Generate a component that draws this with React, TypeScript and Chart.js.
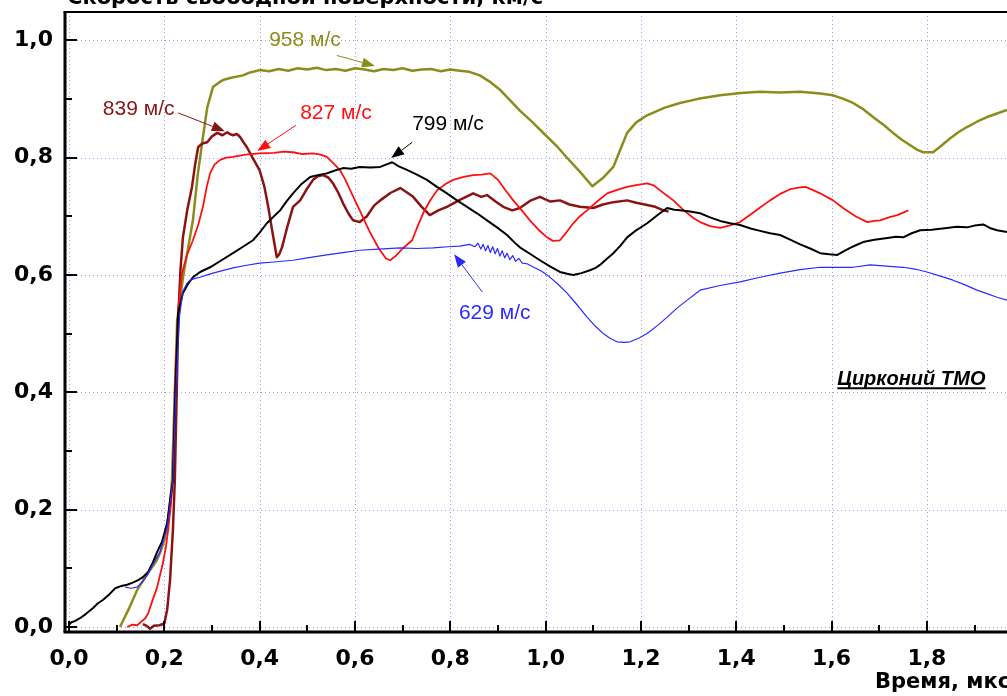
import React, { useEffect, useRef } from "react";
import Chart from "chart.js/auto";

type P = [number, number];

const X_TICKS = [0, 0.2, 0.4, 0.6, 0.8, 1.0, 1.2, 1.4, 1.6, 1.8];
const X_MINOR = [0.1, 0.3, 0.5, 0.7, 0.9, 1.1, 1.3, 1.5, 1.7, 1.9];
const Y_TICKS = [0, 0.2, 0.4, 0.6, 0.8, 1.0];
const Y_MINOR = [0.1, 0.3, 0.5, 0.7, 0.9];

const TITLE_Y = "Скорость свободной поверхности, км/с";
const TITLE_X = "Время, мкс";
const NOTE = "Цирконий ТМО";

const S958: P[] = [[0.107,0],[0.125,0.03],[0.143,0.063],[0.16,0.085],[0.17,0.097],[0.183,0.112],[0.191,0.126],[0.2,0.148],[0.205,0.165],[0.212,0.21],[0.216,0.25],[0.222,0.4],[0.227,0.523],[0.24,0.6],[0.26,0.693],[0.27,0.77],[0.281,0.835],[0.29,0.885],[0.302,0.92],[0.315,0.928],[0.323,0.932],[0.34,0.936],[0.365,0.94],[0.38,0.945],[0.40,0.949],[0.42,0.947],[0.44,0.951],[0.46,0.948],[0.48,0.952],[0.5,0.95],[0.52,0.953],[0.54,0.949],[0.56,0.951],[0.58,0.948],[0.6,0.952],[0.62,0.95],[0.64,0.947],[0.66,0.951],[0.68,0.949],[0.7,0.952],[0.72,0.948],[0.74,0.95],[0.76,0.951],[0.78,0.947],[0.8,0.95],[0.82,0.948],[0.84,0.946],[0.862,0.94],[0.885,0.928],[0.905,0.915],[0.925,0.898],[0.946,0.88],[0.97,0.862],[1.0,0.838],[1.025,0.818],[1.05,0.795],[1.075,0.773],[1.098,0.751],[1.12,0.765],[1.142,0.784],[1.16,0.82],[1.171,0.842],[1.19,0.86],[1.213,0.872],[1.25,0.885],[1.282,0.893],[1.32,0.9],[1.366,0.906],[1.41,0.91],[1.45,0.912],[1.49,0.911],[1.534,0.912],[1.576,0.909],[1.603,0.906],[1.625,0.9],[1.645,0.893],[1.667,0.882],[1.687,0.869],[1.71,0.855],[1.729,0.842],[1.748,0.83],[1.765,0.821],[1.78,0.813],[1.792,0.809],[1.813,0.809],[1.83,0.82],[1.849,0.833],[1.866,0.843],[1.884,0.852],[1.905,0.861],[1.926,0.869],[1.947,0.875],[1.968,0.881]];

const S839: P[] = [[0.155,0.005],[0.163,0.002],[0.17,-0.003],[0.178,0.002],[0.19,0.003],[0.2,0.006],[0.206,0.03],[0.212,0.08],[0.218,0.165],[0.222,0.25],[0.226,0.4],[0.229,0.523],[0.234,0.61],[0.239,0.664],[0.248,0.71],[0.258,0.75],[0.265,0.79],[0.271,0.818],[0.28,0.824],[0.29,0.826],[0.3,0.836],[0.311,0.842],[0.322,0.838],[0.332,0.843],[0.338,0.84],[0.344,0.838],[0.352,0.84],[0.359,0.835],[0.366,0.826],[0.373,0.818],[0.385,0.8],[0.4,0.778],[0.41,0.75],[0.418,0.716],[0.427,0.672],[0.436,0.63],[0.441,0.635],[0.447,0.647],[0.458,0.682],[0.47,0.716],[0.485,0.727],[0.498,0.745],[0.512,0.762],[0.522,0.768],[0.533,0.77],[0.544,0.766],[0.554,0.756],[0.565,0.74],[0.575,0.722],[0.586,0.705],[0.596,0.693],[0.61,0.69],[0.625,0.7],[0.64,0.718],[0.653,0.727],[0.675,0.74],[0.695,0.748],[0.71,0.74],[0.722,0.733],[0.74,0.716],[0.757,0.702],[0.775,0.71],[0.793,0.716],[0.82,0.728],[0.848,0.739],[0.865,0.733],[0.877,0.736],[0.895,0.725],[0.911,0.716],[0.93,0.71],[0.946,0.714],[0.967,0.726],[0.988,0.733],[1.01,0.725],[1.03,0.727],[1.05,0.72],[1.072,0.716],[1.1,0.714],[1.12,0.72],[1.142,0.724],[1.171,0.727],[1.19,0.723],[1.213,0.719],[1.23,0.716],[1.247,0.71],[1.258,0.708]];

const S827: P[] = [[0.122,0],[0.133,0.004],[0.143,0.003],[0.153,0.01],[0.16,0.015],[0.166,0.023],[0.175,0.045],[0.185,0.068],[0.197,0.109],[0.203,0.135],[0.208,0.165],[0.214,0.21],[0.218,0.25],[0.222,0.4],[0.229,0.54],[0.237,0.603],[0.248,0.635],[0.26,0.659],[0.271,0.685],[0.281,0.716],[0.289,0.75],[0.296,0.773],[0.305,0.788],[0.317,0.796],[0.33,0.8],[0.344,0.801],[0.37,0.805],[0.4,0.807],[0.43,0.808],[0.45,0.81],[0.47,0.809],[0.49,0.806],[0.512,0.807],[0.528,0.805],[0.541,0.801],[0.555,0.79],[0.569,0.778],[0.58,0.762],[0.59,0.744],[0.61,0.71],[0.63,0.675],[0.65,0.645],[0.665,0.628],[0.674,0.625],[0.685,0.632],[0.7,0.645],[0.72,0.659],[0.73,0.68],[0.743,0.705],[0.757,0.726],[0.772,0.744],[0.79,0.755],[0.806,0.762],[0.828,0.767],[0.848,0.77],[0.866,0.771],[0.884,0.773],[0.9,0.762],[0.915,0.745],[0.932,0.727],[0.95,0.71],[0.967,0.693],[0.985,0.677],[1.003,0.664],[1.015,0.658],[1.03,0.659],[1.044,0.673],[1.058,0.688],[1.072,0.7],[1.087,0.71],[1.108,0.725],[1.129,0.739],[1.15,0.745],[1.171,0.75],[1.19,0.753],[1.213,0.756],[1.228,0.752],[1.24,0.744],[1.255,0.735],[1.268,0.727],[1.29,0.71],[1.31,0.697],[1.324,0.69],[1.345,0.683],[1.366,0.68],[1.385,0.684],[1.408,0.69],[1.43,0.703],[1.45,0.715],[1.471,0.727],[1.492,0.738],[1.513,0.746],[1.534,0.749],[1.545,0.75],[1.56,0.745],[1.576,0.739],[1.603,0.727],[1.624,0.714],[1.65,0.7],[1.675,0.69],[1.69,0.692],[1.702,0.693],[1.72,0.698],[1.738,0.702],[1.761,0.71]];

const S799: P[] = [[0.0,0.004],[0.005,0.008],[0.012,0.01],[0.023,0.015],[0.035,0.022],[0.05,0.032],[0.06,0.04],[0.071,0.046],[0.085,0.056],[0.097,0.066],[0.11,0.07],[0.122,0.072],[0.135,0.076],[0.145,0.08],[0.155,0.085],[0.166,0.094],[0.176,0.11],[0.185,0.128],[0.195,0.145],[0.206,0.177],[0.212,0.216],[0.218,0.25],[0.223,0.4],[0.229,0.535],[0.239,0.569],[0.25,0.585],[0.26,0.596],[0.275,0.605],[0.296,0.613],[0.32,0.625],[0.344,0.637],[0.365,0.648],[0.386,0.659],[0.4,0.672],[0.415,0.688],[0.43,0.7],[0.443,0.71],[0.456,0.725],[0.47,0.739],[0.488,0.755],[0.506,0.767],[0.522,0.77],[0.541,0.773],[0.558,0.778],[0.575,0.782],[0.592,0.781],[0.61,0.784],[0.632,0.783],[0.653,0.784],[0.665,0.788],[0.678,0.792],[0.692,0.785],[0.709,0.779],[0.73,0.771],[0.751,0.762],[0.772,0.75],[0.793,0.739],[0.814,0.727],[0.835,0.716],[0.856,0.705],[0.877,0.693],[0.898,0.681],[0.919,0.668],[0.935,0.655],[0.946,0.647],[0.967,0.636],[0.988,0.625],[1.01,0.614],[1.03,0.605],[1.045,0.602],[1.058,0.6],[1.075,0.603],[1.093,0.608],[1.105,0.612],[1.114,0.617],[1.128,0.627],[1.142,0.637],[1.157,0.65],[1.171,0.664],[1.19,0.676],[1.213,0.688],[1.235,0.702],[1.255,0.714],[1.27,0.711],[1.282,0.71],[1.303,0.708],[1.324,0.705],[1.345,0.698],[1.366,0.692],[1.387,0.688],[1.408,0.685],[1.43,0.679],[1.45,0.675],[1.471,0.671],[1.492,0.668],[1.513,0.66],[1.534,0.652],[1.555,0.645],[1.576,0.637],[1.595,0.635],[1.612,0.634],[1.625,0.64],[1.639,0.646],[1.652,0.651],[1.666,0.656],[1.69,0.66],[1.717,0.663],[1.735,0.665],[1.75,0.664],[1.768,0.671],[1.786,0.676],[1.81,0.677],[1.842,0.68],[1.862,0.682],[1.884,0.681],[1.9,0.684],[1.918,0.686],[1.932,0.68],[1.947,0.676],[1.968,0.673]];

const S629: P[] = [[0.118,0.068],[0.13,0.066],[0.143,0.068],[0.155,0.078],[0.164,0.088],[0.175,0.105],[0.191,0.128],[0.206,0.17],[0.218,0.25],[0.225,0.42],[0.232,0.53],[0.239,0.572],[0.247,0.585],[0.254,0.591],[0.265,0.594],[0.275,0.596],[0.29,0.6],[0.302,0.603],[0.32,0.607],[0.344,0.612],[0.37,0.616],[0.4,0.62],[0.43,0.622],[0.47,0.625],[0.5,0.629],[0.541,0.634],[0.575,0.638],[0.61,0.642],[0.65,0.644],[0.695,0.646],[0.73,0.645],[0.764,0.646],[0.795,0.648],[0.82,0.649],[0.84,0.652],[0.852,0.648],[0.858,0.654],[0.864,0.644],[0.869,0.652],[0.874,0.641],[0.879,0.65],[0.884,0.638],[0.889,0.648],[0.894,0.636],[0.899,0.645],[0.904,0.632],[0.909,0.641],[0.914,0.629],[0.919,0.637],[0.925,0.626],[0.931,0.633],[0.937,0.623],[0.944,0.628],[0.951,0.62],[0.961,0.619],[0.975,0.613],[0.99,0.607],[1.003,0.6],[1.025,0.585],[1.045,0.569],[1.065,0.55],[1.087,0.528],[1.105,0.512],[1.121,0.5],[1.135,0.492],[1.15,0.486],[1.165,0.485],[1.177,0.486],[1.195,0.492],[1.213,0.5],[1.235,0.514],[1.255,0.528],[1.275,0.543],[1.297,0.557],[1.324,0.574],[1.366,0.582],[1.408,0.588],[1.45,0.596],[1.492,0.603],[1.534,0.609],[1.576,0.613],[1.61,0.613],[1.645,0.613],[1.681,0.617],[1.715,0.615],[1.75,0.613],[1.775,0.61],[1.8,0.605],[1.828,0.598],[1.855,0.591],[1.88,0.583],[1.905,0.574],[1.926,0.568],[1.947,0.562],[1.968,0.557]];

const SERIES = [
  { label: "629 м/с", data: S629, color: "#2a2aff", width: 1.2 },
  { label: "799 м/с", data: S799, color: "#000000", width: 2 },
  { label: "827 м/с", data: S827, color: "#ff1010", width: 1.8 },
  { label: "839 м/с", data: S839, color: "#8a1414", width: 2.5 },
  { label: "958 м/с", data: S958, color: "#8c8c1c", width: 2.5 },
];

const NOTES = [
  { text: "958 м/с", color: "#8c8c1c", at: [0.42, 0.99], from: [0.562, 0.974], to: [0.642, 0.956] },
  { text: "839 м/с", color: "#8a1414", at: [0.071, 0.872], from: [0.229, 0.876], to: [0.327, 0.845] },
  { text: "827 м/с", color: "#ff1010", at: [0.485, 0.865], from: [0.476, 0.855], to: [0.395, 0.811] },
  { text: "799 м/с", color: "#000000", at: [0.72, 0.847], from: [0.72, 0.826], to: [0.676, 0.799] },
  { text: "629 м/с", color: "#2a2aff", at: [0.818, 0.525], from: [0.867, 0.571], to: [0.808, 0.635] },
];
const NOTE_POS = [1.612, 0.412];

const fmt = (v: number) => Number(v).toFixed(1).replace(".", ",");

const overlay = {
  id: "overlay",
  beforeDatasetsDraw(chart: any) {
    const { ctx, chartArea, scales } = chart;
    const { left, right, top, bottom } = chartArea;
    const x = scales.x, y = scales.y;
    ctx.save();
    ctx.strokeStyle = "#9a9aff";
    ctx.lineWidth = 1;
    ctx.setLineDash([1, 3]);
    for (const v of X_TICKS) {
      const px = Math.round(x.getPixelForValue(v)) + 0.5;
      ctx.beginPath(); ctx.moveTo(px, top); ctx.lineTo(px, bottom); ctx.stroke();
    }
    for (const v of Y_TICKS) {
      const py = Math.round(y.getPixelForValue(v)) + 0.5;
      ctx.beginPath(); ctx.moveTo(left, py); ctx.lineTo(right, py); ctx.stroke();
    }
    ctx.restore();
  },
  afterDatasetsDraw(chart: any) {
    const { ctx, chartArea, scales } = chart;
    const { left, right, top, bottom } = chartArea;
    const x = scales.x, y = scales.y;
    ctx.save();
    ctx.setLineDash([]);
    ctx.strokeStyle = "#000";
    ctx.lineWidth = 3;
    ctx.beginPath(); ctx.moveTo(left, top); ctx.lineTo(left, bottom); ctx.stroke();
    ctx.beginPath(); ctx.moveTo(left - 1.5, bottom); ctx.lineTo(right, bottom); ctx.stroke();
    ctx.lineWidth = 2;
    ctx.beginPath(); ctx.moveTo(left - 1.5, top); ctx.lineTo(right, top); ctx.stroke();
    ctx.lineWidth = 2;
    const xt = (vals: number[], len: number) => {
      for (const v of vals) {
        const px = Math.round(x.getPixelForValue(v));
        if (px > right) continue;
        ctx.beginPath(); ctx.moveTo(px, bottom); ctx.lineTo(px, bottom - len); ctx.stroke();
      }
    };
    const yt = (vals: number[], len: number) => {
      for (const v of vals) {
        const py = Math.round(y.getPixelForValue(v));
        ctx.beginPath(); ctx.moveTo(left, py); ctx.lineTo(left + len, py); ctx.stroke();
      }
    };
    xt(X_TICKS, 11); xt(X_MINOR, 7);
    yt(Y_TICKS, 12); yt(Y_MINOR, 7);

    for (const n of NOTES) {
      const tx = x.getPixelForValue(n.at[0]), ty = y.getPixelForValue(n.at[1]);
      ctx.fillStyle = n.color;
      ctx.font = "21px 'Liberation Sans', Arial, sans-serif";
      ctx.textAlign = "left"; ctx.textBaseline = "alphabetic";
      ctx.fillText(n.text, tx, ty);
      const x1 = x.getPixelForValue(n.from[0]), y1 = y.getPixelForValue(n.from[1]);
      const x2 = x.getPixelForValue(n.to[0]), y2 = y.getPixelForValue(n.to[1]);
      const ang = Math.atan2(y2 - y1, x2 - x1);
      const hl = 13, hw = 5;
      ctx.strokeStyle = n.color; ctx.lineWidth = 1;
      ctx.beginPath(); ctx.moveTo(x1, y1);
      ctx.lineTo(x2 - Math.cos(ang) * hl, y2 - Math.sin(ang) * hl); ctx.stroke();
      ctx.beginPath();
      ctx.moveTo(x2, y2);
      ctx.lineTo(x2 - Math.cos(ang) * hl - Math.sin(ang) * hw, y2 - Math.sin(ang) * hl + Math.cos(ang) * hw);
      ctx.lineTo(x2 - Math.cos(ang) * hl + Math.sin(ang) * hw, y2 - Math.sin(ang) * hl - Math.cos(ang) * hw);
      ctx.closePath(); ctx.fill();
    }

    {
      const nx = x.getPixelForValue(NOTE_POS[0]), ny = y.getPixelForValue(NOTE_POS[1]);
      ctx.fillStyle = "#000";
      ctx.font = "italic bold 20px 'Liberation Sans', Arial, sans-serif";
      ctx.fillText(NOTE, nx, ny);
      const w = ctx.measureText(NOTE).width;
      ctx.strokeStyle = "#000"; ctx.lineWidth = 2;
      ctx.beginPath(); ctx.moveTo(nx, ny + 3); ctx.lineTo(nx + w, ny + 3); ctx.stroke();
    }

    ctx.fillStyle = "#000";
    ctx.font = "bold 21px 'DejaVu Sans', sans-serif";
    ctx.textAlign = "left"; ctx.textBaseline = "alphabetic";
    ctx.fillText(TITLE_Y, 67, 4);
    ctx.fillText(TITLE_X, 875, 688);
    ctx.restore();
  },
};

export default function App() {
  const ref = useRef<HTMLCanvasElement | null>(null);
  useEffect(() => {
    if (!ref.current) return;
    const tickFont = { family: "'DejaVu Sans', sans-serif", weight: "bold" as const, size: 22 };
    const chart = new Chart(ref.current, {
      type: "scatter",
      data: {
        datasets: SERIES.map((s) => ({
          label: s.label,
          data: s.data.map(([a, b]) => ({ x: a, y: b })),
          showLine: true,
          borderColor: s.color,
          backgroundColor: s.color,
          borderWidth: s.width,
          pointRadius: 0,
          pointHoverRadius: 0,
          tension: 0,
          borderJoinStyle: "round" as const,
        })),
      },
      options: {
        responsive: false,
        animation: false,
        devicePixelRatio: 1,
        layout: { padding: { top: 12, right: 0, left: 0, bottom: 0 } },
        plugins: { legend: { display: false }, tooltip: { enabled: false }, title: { display: false } },
        events: [],
        scales: {
          x: {
            type: "linear",
            min: -0.0084,
            max: 1.968,
            grid: { display: false, drawTicks: false },
            border: { display: false },
            afterBuildTicks: (axis: any) => { axis.ticks = X_TICKS.map((v) => ({ value: v })); },
            afterFit: (s: any) => { s.height = 64; s.paddingLeft = 0; s.paddingRight = 0; },
            ticks: { font: tickFont, color: "#000", padding: 14, maxRotation: 0, autoSkip: false, callback: (v: any) => fmt(v) },
          },
          y: {
            type: "linear",
            min: -0.0085,
            max: 1.048,
            grid: { display: false, drawTicks: false },
            border: { display: false },
            afterBuildTicks: (axis: any) => { axis.ticks = Y_TICKS.map((v) => ({ value: v })); },
            afterFit: (s: any) => { s.width = 65; s.paddingTop = 0; s.paddingBottom = 0; },
            ticks: { font: tickFont, color: "#000", padding: 12, autoSkip: false, callback: (v: any) => fmt(v) },
          },
        },
      },
      plugins: [overlay],
    } as any);
    return () => chart.destroy();
  }, []);
  return (
    <div style={{ position: "fixed", left: 0, top: 0, width: 1007, height: 696, background: "#fff" }}>
      <canvas ref={ref} width={1007} height={696} style={{ width: 1007, height: 696, display: "block" }} />
    </div>
  );
}
